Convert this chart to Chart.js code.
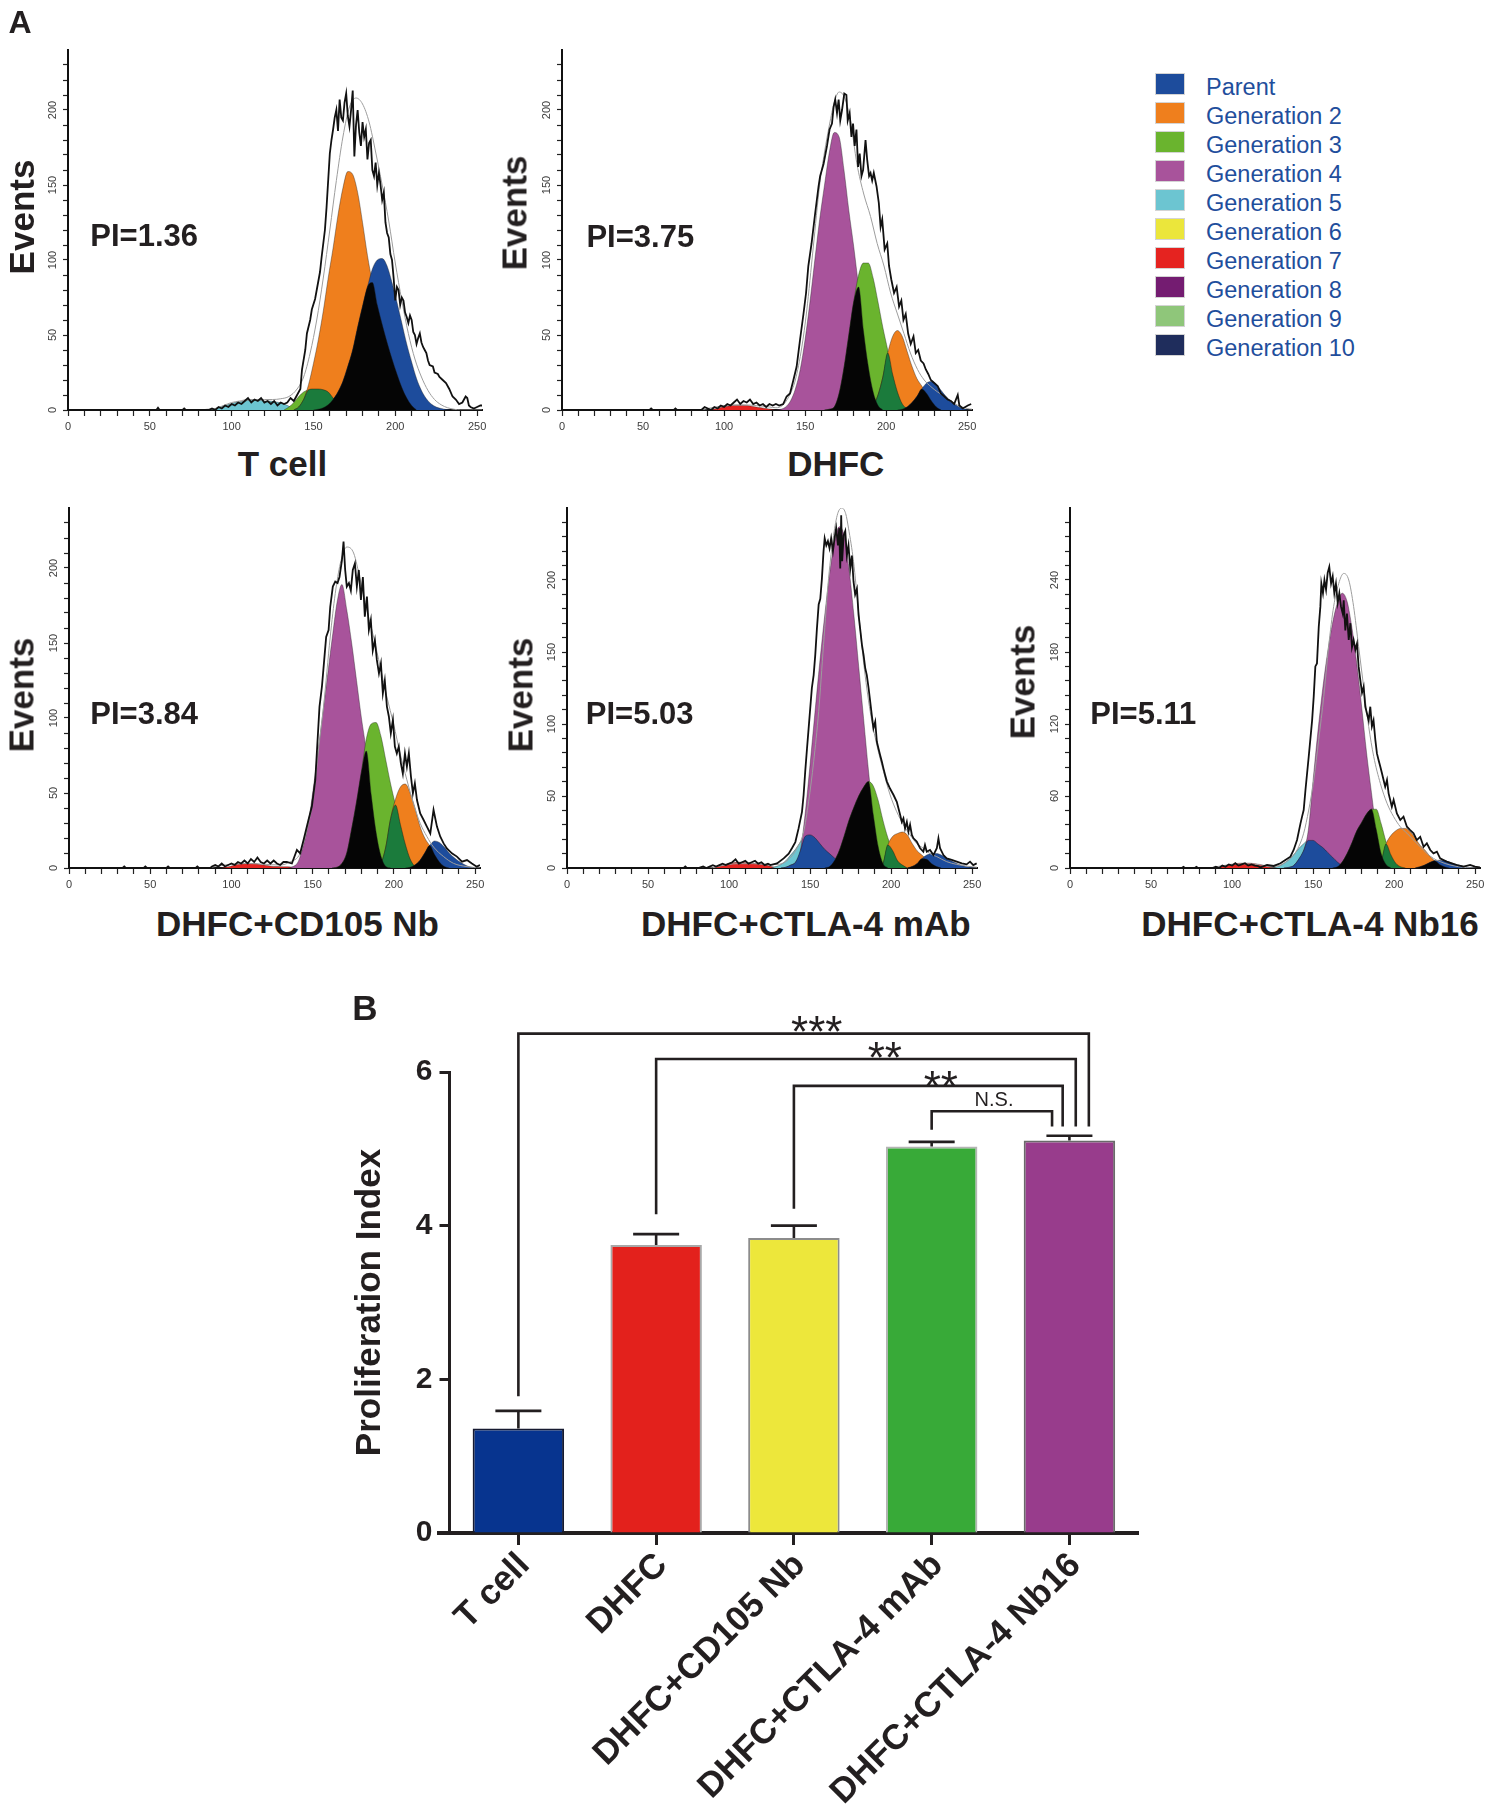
<!DOCTYPE html>
<html>
<head>
<meta charset="utf-8">
<script src="https://cdn.jsdelivr.net/npm/chart.js@4.4.1/dist/chart.umd.min.js"></script>
<style>
  html, body { margin: 0; padding: 0; background: #fff; }
  body { width: 1491px; height: 1812px; position: relative; overflow: hidden;
         font-family: "Liberation Sans", Arial, sans-serif; color: #231f20; }
  canvas { position: absolute; }
  .lbl { position: absolute; transform: translate(-50%, -50%); white-space: nowrap;
         font-weight: bold; line-height: 1; z-index: 5; }
  .lbl.rot { transform: translate(-50%, -50%) rotate(-90deg); }
  .sw { position: absolute; width: 30px; height: 22px; box-sizing: border-box; border: 1px solid #d4d4d4; }
  .lg { position: absolute; transform: translateY(-50%); font-size: 23.5px; line-height: 1;
        color: #1f4e9c; white-space: nowrap; }
</style>
</head>
<body>
<canvas id="h1" width="478" height="404"></canvas>
<canvas id="h2" width="474" height="404"></canvas>
<canvas id="h3" width="475" height="404"></canvas>
<canvas id="h4" width="474" height="404"></canvas>
<canvas id="h5" width="471" height="404"></canvas>
<canvas id="bars" width="820" height="822"></canvas>
<script>
Chart.defaults.font.family = '"Liberation Sans", Arial, sans-serif'

// ---- legend of generations
const genLabels = ['Parent', 'Generation 2', 'Generation 3', 'Generation 4', 'Generation 5',
                   'Generation 6', 'Generation 7', 'Generation 8', 'Generation 9', 'Generation 10']
const genColors = ['#1d4c9c', '#ef7f1d', '#6ab42e', '#a8539b', '#6cc5d1',
                   '#ebe63b', '#e52320', '#741c71', '#8fc67a', '#1f2d5c']
const blackOverlap = '#050505'
const greenOverlap = '#1b7b3c'

// ---- histogram axis ticks
const histXTicks = Array.from({length: 26}, (_, i) => i * 10)
const histXLabels = [0, 50, 100, 150, 200, 250]
const ticks240 = Array.from({length: 24}, (_, i) => i * 10)
const ticks250 = Array.from({length: 25}, (_, i) => i * 10)
const ticks300 = Array.from({length: 25}, (_, i) => i * 12)
const labels50 = [0, 50, 100, 150, 200]
const labels60 = [0, 60, 120, 180, 240]

// ---- T cell
const tcRaw = [[0,0],[54,0],[55,1.5],[56,0],[70,0],[71,1],[72,0],[86,0],[88,1],[90,0],[92,2],[94,1],[96,3],[98,2],[100,4],[102,3],[104,5],[106,4],[108,6],[110,8],[112,5],[114,7],[116,6],[118,8],[120,5],[122,6],[124,4],[126,6],[128,3],[130,5],[132,4],[134,5],[136,8],[138,6],[140,10],[142,14],[143,27],[145,40],[146,51],[148,60],[149,67],[151,74],[152,80],[154,92],[155,102],[157,120],[158,135],[160,171],[161,180],[162,187],[163,195],[164,200],[165,186],[166,207],[167,195],[168,193],[169,205],[170,211],[171,196],[172,189],[173,200],[174,213],[175,169],[176,190],[177,200],[178,185],[179,176],[180,192],[181,182],[182,187],[183,167],[184,178],[185,180],[186,160],[187,156],[188,165],[189,150],[190,158],[191,150],[192,140],[193,145],[194,125],[195,118],[196,115],[197,104],[198,100],[199,88],[200,73],[201,82],[202,80],[203,70],[204,75],[205,73],[206,65],[207,62],[208,58],[209,63],[210,60],[211,52],[212,50],[213,44],[214,48],[215,51],[216,45],[217,42],[218,40],[219,38],[220,33],[221,30],[223,29],[224,25],[226,24],[227,22],[229,20],[231,18],[233,14],[235,9],[237,7],[239,4],[241,5],[243,9],[244,8],[245,3],[246,2],[248,1],[250,2],[252,3],[253,3]]
const tcFit = [[0,0],[80,0],[85,0.5],[90,1],[95,3],[100,5],[105,6],[110,7],[115,7],[120,7],[125,7],[130,7.5],[135,9],[140,14],[144,22],[148,38],[152,60],[156,88],[160,120],[164,153],[168,182],[172,202],[176,208],[180,204],[184,192],[188,172],[192,150],[196,126],[200,98],[204,73],[208,51],[212,34],[216,22],[220,13],[224,7],[228,3.5],[232,1.5],[236,0.5],[240,0],[253,0]]
const tcGen5 = [[87,0],[90,1],[93,2],[96,3],[99,4],[102,5],[105,5.5],[108,6],[111,6.5],[114,6.5],[117,6.5],[120,6],[123,6],[126,5.5],[129,5],[132,4],[135,2.5],[138,1],[141,0]]
const tcGen3 = [[132,0],[135,2],[138,5],[141,9],[144,12],[147,13.5],[150,14],[153,14],[156,13.5],[159,12],[162,8],[165,4],[168,1],[171,0]]
const tcGen2 = [[138,0],[141,2],[144,7],[147,17],[150,31],[153,47],[156,66],[159,88],[162,108],[165,130],[168,148],[171,159],[174,157],[177,145],[180,125],[183,103],[186,85],[189,70],[192,57],[195,45],[198,34],[201,24],[204,15],[207,8],[210,3],[213,0]]
const tcParent = [[150,0],[153,0.5],[156,1.5],[159,3.5],[162,7],[165,12],[168,19],[171,29],[174,40],[177,55],[180,69],[183,82],[186,94],[189,100],[192,101],[195,96],[198,85],[201,72],[204,58],[207,44],[210,32],[213,21],[216,13],[219,7.5],[222,4],[225,2],[228,1],[231,0.3],[234,0]]

// ---- DHFC
const dhRaw = [[0,0],[54,0],[55,1],[56,0],[69,0],[70,1],[71,0],[86,0],[88,2],[90,1],[92,0],[94,2],[96,1],[98,3],[100,2],[102,4],[104,3],[106,5],[108,7],[110,4],[112,6],[114,5],[116,7],[118,4],[120,5],[122,3],[124,4],[126,2],[128,4],[130,3],[132,4],[134,3],[136.5,4],[138.6,9],[140.7,11],[142.8,20],[144.8,29],[146.9,47],[149,64],[150.6,78],[152,96],[154,111],[156.2,131],[158.3,149],[159.3,156],[161.4,164],[163.5,176],[165.1,187],[166.6,191],[167.6,202],[168.6,207],[169.7,198],[170.7,207],[171.7,193],[172.8,200],[174.2,211],[175.5,210],[176.3,193],[177.5,198],[178.6,182],[179.6,191],[180.6,176],[181.7,187],[182.7,162],[183.7,171],[184.8,156],[185.8,160],[187.3,180],[188.3,167],[189.5,156],[190.4,158],[191.4,153],[192.4,158],[194.1,149],[195.5,138],[196.6,122],[197.6,127],[199.1,107],[200.7,111],[201.8,96],[203.2,87],[204.9,78],[206.5,82],[208,69],[209.4,73],[210.7,60],[212.1,64],[213.6,51],[215.2,44],[216.9,49],[218.3,38],[219.8,40],[221.4,33],[223.1,31],[224.5,27],[226,24],[227.6,20],[229.7,18],[231.8,16],[233.8,11],[236,9],[238,7],[240,6],[242,4],[244.2,10],[245.2,3],[247.3,1],[250.4,3],[252.5,4]]
const dhFit = [[0,0],[85,0],[90,1],[95,2],[100,3],[110,3.5],[120,3],[128,2],[132,1.5],[136,3],[140,9],[144,20],[148,42],[151,66],[155,108],[159,150],[162,172],[165,190],[168,205],[171,212],[174.5,208],[178,193],[182,164],[186.2,144],[190.4,129],[194.5,111],[198.7,96],[202.8,78],[207,64],[211,51],[215,38],[219.4,27],[223.5,20],[227.6,15.6],[231.8,12],[236,9],[240,5.6],[244,3.3],[250,1],[253,0.5]]
const dhGen7 = [[90,0],[93,0.5],[96,1],[99,2],[102,2.5],[105,3],[108,3],[111,3],[114,3],[117,2.5],[120,2],[123,1.5],[126,1],[129,0.5],[132,0]]
const dhGen4 = [[132,0],[135,0.5],[138,2],[141,6],[144,14],[147,27],[150,47],[153,72],[156,100],[159,127],[162,150],[165,172],[168,185],[171,182],[174,160],[177,133],[180,109],[183,82],[186,53],[189,29],[192,12],[195,3],[198,0]]
const dhGen3 = [[162,0],[165,0.5],[168,2],[171,11],[174,28],[177,50],[180,72],[183,90],[186,98],[189,98],[192,88],[195,72],[198,55],[201,40],[204,24],[207,12],[210,4],[213,1],[216,0]]
const dhGen2 = [[186,0],[189,1],[192,3],[195,10],[198,22],[201,38],[204,49],[207,53],[210,49],[213,39],[216,29],[219,21],[222,16],[225,11],[228,6],[231,2],[234,0]]
const dhParent = [[207,0],[210,0.5],[213,2],[216,5],[219,9],[222,14],[225,18],[228,19],[231,17],[234,13],[237,9],[240,6],[243,3.5],[246,1.5],[249,0.5],[252,0]]

// ---- DHFC+CD105 Nb
const cdRaw = [[0,0],[33,0],[34,1],[35,0],[46,0],[47,1],[48,0],[60,0],[61,1],[62,0],[78,0],[79,1],[80,0],[87,0],[88,1],[90,2],[92,1],[94,3],[96,1],[98,2],[100,3],[102,2],[104,4],[106,3],[108,5],[110,3],[112,6],[114,4],[116,7],[118,4],[120,3],[122,5],[124,3],[126,5],[128,3],[130,2],[132,4],[134.1,4],[137.2,3],[140.3,12],[142.3,9.8],[144.4,18.7],[147.4,32],[149.5,41],[151.6,58.7],[153,85],[154.2,107.6],[155.7,121],[157.1,138.7],[158.3,154],[159.8,158.7],[160.8,174],[162.4,187.6],[163.9,191],[165.3,190],[166.5,194],[168,205],[169,217.6],[170,198.7],[171,187.6],[172.3,190],[173.5,185],[174.7,198.7],[176,203],[177.2,187.6],[178.4,198.7],[179.7,178.7],[180.9,194],[182.1,167.6],[183.4,181],[184.6,158.7],[185.8,165.3],[187,145],[188.3,152],[189.5,138.7],[190.8,129.8],[192,136.4],[193.2,116.4],[194.4,125],[195.7,107.6],[196.9,101],[198.1,89.8],[199.4,98.7],[200.6,81],[201.8,76.4],[203,81],[204.3,69.8],[205.5,63],[206.8,76.4],[208,67.6],[209.2,76.4],[210.5,60.9],[211.7,49.8],[212.9,56.4],[214.2,45.3],[216.2,36.4],[218.3,32],[220.3,27.6],[222.4,23],[224.4,38.7],[226.5,27.6],[228.5,21],[230.6,16.4],[232.6,13],[235.7,9.8],[238.8,7.6],[241.9,4.2],[245,5.3],[248,3],[251,0.9],[253,2]]
const cdFit = [[0,0],[85,0],[90,1],[100,2.5],[110,3],[120,2.5],[130,2],[136,4],[142.3,9.8],[146.4,25],[150.5,47.6],[153.5,78],[156.7,107.6],[160.8,154],[163.9,183],[167,203],[171,214],[175.2,210],[179.3,192],[183.4,172],[187.5,154],[191.6,134],[195.7,114],[199.8,96],[203.9,76],[208,58.7],[212,43],[216.2,29.8],[220.3,21],[224.4,14],[230.6,7.6],[236.7,3.1],[245,0.9],[253,0]]
const cdGen7 = [[93,0],[96,0.5],[99,1],[102,2],[105,2.5],[108,3],[111,3],[114,3],[117,2.5],[120,2],[123,1.5],[126,1],[129,1],[132,0.8],[135,0.8],[138,0.5],[141,0.3],[144,0]]
const cdGen4 = [[135,0],[138,1],[141,4],[144,14],[147,28],[150,50],[153,75],[156,101],[159,127],[162,153],[165,177],[168,189],[171,172],[174,150],[177,125],[180,100],[183,78],[186,49],[189,24],[192,8],[195,1],[198,0]]
const cdGen3 = [[162,0],[165,0.5],[168,3],[171,10],[174,26],[177,44],[180,64],[183,86],[186,96],[189,97],[192,88],[195,72],[198,56],[201,42],[204,29],[207,16],[210,6],[213,1],[216,0]]
const cdGen2 = [[186,0],[189,0.5],[192,3],[195,14],[198,33],[201,46],[204,54],[207,56],[210,50],[213,40],[216,28],[219,20],[222,15],[225,9],[228,4],[231,1],[234,0]]
const cdParent = [[207,0],[210,0.5],[213,2],[216,5],[219,10],[222,15],[225,18],[228,17],[231,14],[234,10],[237,7],[240,4.5],[243,2.5],[246,1],[249,0.3],[252,0]]

// ---- DHFC+CTLA-4 mAb
const mbRaw = [[0,0],[72,0],[73,1],[74,0],[81,0],[84,1],[86,0],[88,1],[90,2],[92,1],[94,2],[96,3],[98,2],[100,3],[102,4],[104,6],[106,3],[108,4],[110,5],[112,3],[114,4],[116,5],[118,3],[120,4],[122,2],[124,3],[125.5,2],[129.6,3.2],[133.7,6.7],[136.8,10],[138.8,13.7],[140.9,18],[142.9,27.5],[145,39],[146,50.7],[147,67],[148.1,83],[149.1,97],[150.1,111],[151.1,125],[152.2,134],[153.2,148],[154.2,166],[155.3,183],[156.3,187],[157.3,201],[158.3,220],[159,229],[160,224],[161,227],[162,222],[163,229],[164.1,220],[165.1,229],[166.1,236],[167.2,224],[168,236],[168.6,208],[169.2,245],[169.8,213],[170.7,231],[171.7,234],[172.7,217],[173.7,224],[174.8,208],[175.8,217],[176.8,199],[177.8,190],[178.9,194],[179.9,176],[180.9,166],[182,155],[183,148],[184,139],[185,134],[186.1,125],[187.1,115.5],[188.1,106],[189.1,97],[190.2,101.6],[191.2,87.7],[192.2,83],[193.2,78.5],[194.3,73.8],[195.3,69],[196.3,64.6],[197.4,60],[199.4,55],[201.5,50.7],[203.5,46],[205.6,36.8],[206.6,32],[207.6,34.5],[208.6,27.5],[209.7,32],[210.7,25.2],[211.7,30],[212.8,23],[213.8,20.6],[215.8,18.3],[217.9,13.7],[219.9,11.3],[220.9,16],[222,11.3],[224,12.5],[226.1,9],[228.2,13.7],[229.2,20.6],[230.2,13.7],[232.3,9],[234.3,6.7],[237.4,5.6],[240.5,4.4],[243.6,3.2],[246.6,2.5],[248.7,4.4],[250.7,2],[252.8,3.2]]
const mbFit = [[0,0],[88,0],[95,1.5],[105,3],[115,3],[125,2.5],[129.6,2.5],[135.7,5],[141.9,13.7],[146,25],[149.1,46],[152.2,73.8],[155.3,108.6],[158.3,155],[161.4,201],[164.5,231],[167,246],[169.6,250],[172,246],[173.7,236],[176.8,213],[179.9,178],[183,143],[187.1,108.6],[191.2,85.4],[195.3,67],[199.4,50.7],[203.5,39],[207.6,30],[211.7,23],[215.8,17],[219.9,13.7],[224,10],[228.2,7.9],[234.3,4.4],[240.5,2.5],[248.7,1],[253,0.5]]
const mbGen7 = [[90,0],[93,1],[96,2],[99,3],[102,3.5],[105,4],[108,4],[111,3.5],[114,3.5],[117,3],[120,2.5],[123,2],[126,1],[129,0.5],[132,0]]
const mbGen5 = [[126,0],[129,1],[132,2.5],[135,5],[138,9],[141,13],[144,18],[147,22],[150,23],[153,21],[156,17],[159,13],[162,10],[165,7],[168,4],[171,2],[174,0.5],[177,0]]
const mbGen4 = [[132,0],[135,0.5],[138,2],[141,4],[144,12],[147,38],[150,72],[153,108],[156,143],[159,175],[162,204],[165,226],[168,237],[171,231],[174,208],[177,176],[180,140],[183,104],[186,68],[189,37],[192,15],[195,3],[198,0]]
const mbGen3 = [[159,0],[162,1],[165,5],[168,12],[171,22],[174,33],[177,42],[180,50],[183,56],[186,60],[189,57],[192,47],[195,33],[198,21],[201,12],[204,5],[207,2],[210,0]]
const mbGen2 = [[192,0],[195,3],[198,16],[201,22],[204,24],[207,25],[210,23],[213,17],[216,12],[219,9],[222,6],[225,3],[228,1],[231,0]]
const mbParent = [[210,0],[213,1],[216,3],[219,6.5],[222,9],[225,10],[228,10],[231,9],[234,7],[237,5],[240,3.5],[243,2],[246,1],[249,0.5],[252,0]]

// ---- DHFC+CTLA-4 Nb16
const nbRaw = [[0,0],[69,0],[70,1],[71,0],[77,0],[78,1],[79,0],[88,0],[90,1],[92,0],[94,2],[96,1],[98,3],[100,2],[102,4],[104,2],[106,3],[108,4],[110,2],[112,3],[114,2],[116,1.5],[117.5,0.5],[121.6,2.5],[125.7,1.7],[129.9,3.9],[132.9,6.6],[136,9.4],[138,15],[140.1,23.3],[142.2,37],[143.2,42.8],[144.2,48.3],[145.3,65],[147.3,92.7],[149.4,123],[150.4,143],[151.4,168],[152.4,170.5],[153.5,201],[154.5,218],[155.1,237],[156.1,229],[157,240],[158,232],[159,246],[160,251],[161.1,237],[162.1,243],[163.1,229],[164.1,237],[165.2,221],[166.2,229],[167.2,218],[168.3,212],[168.9,223],[169.9,198],[170.9,212],[172,190],[173,204],[174,184],[175,190],[176.1,182],[177.1,187],[178.1,168],[179.1,157],[180.2,146],[181.2,151],[182.2,134.4],[183.2,129],[184.3,123],[185.3,134.4],[186.3,118],[187.3,123],[188.4,107],[189.4,95.5],[190.4,90],[191.5,84.4],[192.5,78.9],[193.5,73.3],[194.5,67.8],[195.6,73.3],[196.6,62.2],[197.6,56.7],[198.6,51],[199.7,56.7],[201.7,45.5],[203.8,40],[205.8,42.8],[207.9,34.4],[209.9,31.6],[212,28.9],[214,23.3],[216.1,26],[218.2,17.7],[220.2,20.5],[222.3,15],[224.3,12.2],[226.4,13.6],[228.4,8],[230.5,6.6],[232.5,5.3],[235.6,3.9],[238.7,2.5],[242.8,1.1],[246.9,2.5],[249.9,1.1],[253,0.5]]
const nbFit = [[0,0],[85,0],[90,1],[100,3],[110,3.5],[118,2.5],[123.7,1],[129.9,2.5],[135,6.7],[140.1,15],[144.2,29],[147.3,48.3],[150.4,73.3],[153.5,107],[156.6,143],[159.6,184.6],[162.7,218],[165.8,237],[168.9,245.5],[172,240],[175,218],[178.1,184.6],[181.2,151],[184.3,118],[187.4,93],[191.5,70.5],[195.6,54],[199.7,42.8],[203.8,34.4],[207.9,29],[212,23.3],[216.1,17.7],[220.2,12.2],[224.3,8],[228.4,5.3],[234.5,2.5],[244.8,0.3],[253,0]]
const nbGen7 = [[90,0],[93,1],[96,2],[99,3],[102,3.5],[105,4],[108,4],[111,4],[114,3.5],[117,3],[120,2],[123,1],[126,0.5],[129,0]]
const nbGen5 = [[123,0],[126,0.5],[129,1.5],[132,4],[135,7],[138,11],[141,16],[144,20],[147,23],[150,23],[153,20],[156,17],[159,13],[162,9],[165,5],[168,2],[171,0.5],[174,0]]
const nbGen4 = [[132,0],[135,0.5],[138,2],[141,7],[144,14],[147,31],[150,73],[153,114],[156,150],[159,180],[162,204],[165,221],[168,229],[171,222],[174,200],[177,170],[180,134],[183,96],[186,63],[189,32],[192,12],[195,3],[198,0]]
const nbGen3 = [[162,0],[165,1],[168,5],[171,12],[174,21],[177,31],[180,38],[183,45],[186,49],[189,49],[192,37],[195,22],[198,11],[201,4],[204,1],[207,0]]
const nbGen2 = [[189,0],[192,5],[195,20],[198,27],[201,31],[204,33],[207,33],[210,30],[213,25],[216,19],[219,15],[222,10],[225,6],[228,3],[231,1],[234,0]]
const nbParent = [[213,0],[216,1],[219,2.5],[222,4.5],[225,6],[228,6.5],[231,6],[234,5],[237,3.5],[240,2.5],[243,1.5],[246,0.7],[249,0.3],[252,0]]

// ---- panel B: proliferation index
const groups = ['T cell', 'DHFC', 'DHFC+CD105 Nb', 'DHFC+CTLA-4 mAb', 'DHFC+CTLA-4 Nb16']
const piMean = [1.36, 3.75, 3.84, 5.03, 5.11]
const piErr = [0.23, 0.14, 0.16, 0.06, 0.06]
const barColors = ['#07348f', '#e3211c', '#ede73b', '#38aa38', '#983c8c']
const barEdges = ['#161a30', '#a8a8a8', '#8c8c8c', '#b4b4b4', '#6a6a6a']

// significance brackets (x in category units, y in index units)
const sigFrom = [0, 1, 2, 3]
const sigTo = [4.141, 4.046, 3.951, 3.874]
const sigLevel = [6.50, 6.17, 5.82, 5.49]
const sigLeftEnd = [1.78, 4.15, 4.22, 5.25]
const sigRightEnd = [5.29, 5.29, 5.29, 5.29]
const sigText = ['***', '**', '**', 'N.S.']
const sigTextX = [2.166, 2.66, 3.066, 3.453]
const sigTextY = [6.65, 6.32, 5.94, 5.63]

// ---------------------------------------------------------------
const pts = arr => arr.map(p => ({x: p[0], y: p[1]}))

// area shared by two neighbouring generations
function overlap(a, b) {
    const mb = new Map(b.map(p => [p[0], p[1]]))
    return a.filter(p => mb.has(p[0])).map(p => ({x: p[0], y: Math.min(p[1], mb.get(p[0]))}))
}

function histChart(cfg) {
    const cv = document.getElementById(cfg.id)
    cv.style.left = cfg.left + 'px'
    cv.style.top = cfg.top + 'px'
    const sets = []
    cfg.comps.forEach(([d, c]) => sets.push({
        data: pts(d), backgroundColor: c, borderColor: 'rgba(30,30,30,0.55)', borderWidth: 0.7,
        fill: 'origin', cubicInterpolationMode: 'monotone'
    }))
    cfg.overlaps.forEach(([a, b, c]) => sets.push({
        data: overlap(a, b), backgroundColor: c, borderColor: 'rgba(20,20,20,0.6)', borderWidth: 0.7,
        fill: 'origin', cubicInterpolationMode: 'monotone'
    }))
    sets.push({data: pts(cfg.fit), borderColor: '#9d9d9d', borderWidth: 1, fill: false, cubicInterpolationMode: 'monotone'})
    sets.push({data: pts(cfg.raw), borderColor: '#111', borderWidth: 1.8, fill: false, tension: 0})
    sets.forEach((s, i) => { s.order = sets.length - i; s.pointRadius = 0 })

    new Chart(cv, {
        type: 'line',
        data: {datasets: sets},
        options: {
            responsive: false,
            animation: false,
            devicePixelRatio: 1,
            events: [],
            layout: {padding: {top: 12, right: cfg.padRight, left: 0, bottom: 0}},
            plugins: {legend: {display: false}, tooltip: {enabled: false}},
            scales: {
                x: {
                    type: 'linear', min: 0, max: 253,
                    afterBuildTicks: s => { s.ticks = histXTicks.map(v => ({value: v})) },
                    afterFit: s => { s.height = 32 },
                    ticks: {autoSkip: false, maxRotation: 0, minRotation: 0, padding: 4, color: '#3c3c3c',
                            font: {size: 11}, callback: v => histXLabels.includes(v) ? String(v) : ''},
                    grid: {drawOnChartArea: false, tickLength: 6, tickWidth: 1.2, tickColor: '#222'},
                    border: {color: '#111', width: 2}
                },
                y: {
                    min: 0, max: cfg.yMax,
                    afterBuildTicks: s => { s.ticks = cfg.yTicks.map(v => ({value: v})) },
                    afterFit: s => { s.width = 50 },
                    ticks: {autoSkip: false, minRotation: 90, maxRotation: 90, crossAlign: 'center', padding: 1,
                            color: '#3c3c3c', font: {size: 11},
                            callback: v => cfg.yLabels.includes(v) ? String(v) : ''},
                    grid: {drawOnChartArea: false, tickLength: 5, tickWidth: 1.2, tickColor: '#222'},
                    border: {color: '#111', width: 2}
                }
            }
        }
    })
}

histChart({id: 'h1', left: 18, top: 38, padRight: 14, raw: tcRaw, fit: tcFit, yMax: 240, yTicks: ticks240, yLabels: labels50,
    comps: [[tcGen5, genColors[4]], [tcGen3, genColors[2]], [tcGen2, genColors[1]], [tcParent, genColors[0]]],
    overlaps: [[tcGen3, tcGen2, greenOverlap], [tcGen2, tcParent, blackOverlap]]})

histChart({id: 'h2', left: 512, top: 38, padRight: 14, raw: dhRaw, fit: dhFit, yMax: 240, yTicks: ticks240, yLabels: labels50,
    comps: [[dhGen7, genColors[6]], [dhGen4, genColors[3]], [dhGen3, genColors[2]], [dhGen2, genColors[1]], [dhParent, genColors[0]]],
    overlaps: [[dhGen3, dhGen2, greenOverlap], [dhGen4, dhGen3, blackOverlap], [dhGen2, dhParent, blackOverlap]]})

histChart({id: 'h3', left: 19, top: 496, padRight: 14, raw: cdRaw, fit: cdFit, yMax: 240, yTicks: ticks240, yLabels: labels50,
    comps: [[cdGen7, genColors[6]], [cdGen4, genColors[3]], [cdGen3, genColors[2]], [cdGen2, genColors[1]], [cdParent, genColors[0]]],
    overlaps: [[cdGen3, cdGen2, greenOverlap], [cdGen4, cdGen3, blackOverlap], [cdGen2, cdParent, blackOverlap]]})

histChart({id: 'h4', left: 517, top: 496, padRight: 14, raw: mbRaw, fit: mbFit, yMax: 250, yTicks: ticks250, yLabels: labels50,
    comps: [[mbGen7, genColors[6]], [mbGen5, genColors[4]], [mbGen4, genColors[3]], [mbGen3, genColors[2]], [mbGen2, genColors[1]], [mbParent, genColors[0]]],
    overlaps: [[mbGen5, mbGen4, genColors[0]], [mbGen3, mbGen2, greenOverlap], [mbGen4, mbGen3, blackOverlap], [mbGen2, mbParent, blackOverlap]]})

histChart({id: 'h5', left: 1020, top: 496, padRight: 11, raw: nbRaw, fit: nbFit, yMax: 300, yTicks: ticks300, yLabels: labels60,
    comps: [[nbGen7, genColors[6]], [nbGen5, genColors[4]], [nbGen4, genColors[3]], [nbGen3, genColors[2]], [nbGen2, genColors[1]], [nbParent, genColors[0]]],
    overlaps: [[nbGen5, nbGen4, genColors[0]], [nbGen3, nbGen2, greenOverlap], [nbGen4, nbGen3, blackOverlap], [nbGen2, nbParent, blackOverlap]]})

// ---- bar chart with error bars and brackets
const ink = '#231f20'
const sigPlugin = {
    id: 'sig',
    afterDatasetsDraw(chart) {
        const {ctx, scales: {x, y}} = chart
        ctx.save()
        ctx.strokeStyle = ink
        ctx.fillStyle = ink
        // x axis runs a little past the y axis on the left
        ctx.lineWidth = 4
        ctx.beginPath()
        ctx.moveTo(107, y.getPixelForValue(0))
        ctx.lineTo(chart.chartArea.left, y.getPixelForValue(0))
        ctx.stroke()

        ctx.lineWidth = 2.6
        piMean.forEach((m, i) => {
            const cx = x.getPixelForValue(i)
            const half = x.getPixelForValue(i + 0.167) - cx
            const top = y.getPixelForValue(m + piErr[i])
            ctx.beginPath()
            ctx.moveTo(cx, y.getPixelForValue(m))
            ctx.lineTo(cx, top)
            ctx.moveTo(cx - half, top)
            ctx.lineTo(cx + half, top)
            ctx.stroke()
        })

        sigFrom.forEach((f, i) => {
            const x1 = x.getPixelForValue(f), x2 = x.getPixelForValue(sigTo[i])
            const yl = y.getPixelForValue(sigLevel[i])
            ctx.beginPath()
            ctx.moveTo(x1, y.getPixelForValue(sigLeftEnd[i]))
            ctx.lineTo(x1, yl)
            ctx.lineTo(x2, yl)
            ctx.lineTo(x2, y.getPixelForValue(sigRightEnd[i]))
            ctx.stroke()
        })

        ctx.textAlign = 'center'
        sigText.forEach((t, i) => {
            const px = x.getPixelForValue(sigTextX[i])
            const py = y.getPixelForValue(sigTextY[i])
            if (t === 'N.S.') {
                ctx.font = '20px "Liberation Sans", Arial, sans-serif'
                ctx.textBaseline = 'middle'
                ctx.fillText(t, px, py)
            } else {
                ctx.font = '44px "Liberation Sans", Arial, sans-serif'
                ctx.textBaseline = 'alphabetic'
                ctx.fillText(t, px, py + 0.575 * 44)
            }
        })
        ctx.restore()
    }
}

const barCanvas = document.getElementById('bars')
barCanvas.style.left = '330px'
barCanvas.style.top = '990px'
new Chart(barCanvas, {
    type: 'bar',
    data: {
        labels: groups,
        datasets: [{
            data: piMean, backgroundColor: barColors, borderColor: barEdges, borderWidth: 2,
            barPercentage: 0.664, categoryPercentage: 1
        }]
    },
    options: {
        responsive: false,
        animation: false,
        devicePixelRatio: 1,
        events: [],
        layout: {padding: {top: 82, right: 11.7, left: 0, bottom: 0}},
        plugins: {legend: {display: false}, tooltip: {enabled: false}},
        scales: {
            x: {
                offset: true,
                afterFit: s => { s.height = 279 },
                ticks: {autoSkip: false, minRotation: 45, maxRotation: 45, padding: 0, labelOffset: 6,
                        color: ink, font: {size: 35, weight: 'bold'}},
                grid: {offset: false, drawOnChartArea: false, tickLength: 12, tickWidth: 3, tickColor: ink},
                border: {color: ink, width: 4}
            },
            y: {
                min: 0, max: 6,
                afterFit: s => { s.width = 119.5 },
                ticks: {stepSize: 2, padding: 7, color: ink, font: {size: 30, weight: 'bold'}},
                grid: {drawOnChartArea: false, tickLength: 10, tickWidth: 3, tickColor: ink},
                border: {color: ink, width: 3},
                title: {display: true, text: 'Proliferation Index', color: ink,
                        font: {size: 35, weight: 'bold'}, padding: {top: 19.5, bottom: 0}}
            }
        }
    },
    plugins: [sigPlugin]
})

// ---- text labels of panel A
function addLabel(text, cx, cy, size, rotated) {
    const d = document.createElement('div')
    d.className = 'lbl' + (rotated ? ' rot' : '')
    d.textContent = text
    d.style.left = cx + 'px'
    d.style.top = cy + 'px'
    d.style.fontSize = size + 'px'
    document.body.appendChild(d)
}
addLabel('A', 20, 21.5, 32)
addLabel('B', 365, 1006.5, 35)

const eventsPos = [[20.7, 216.7], [514, 212.5], [20.8, 695], [520, 695], [1021.7, 681.7]]
eventsPos.forEach(p => addLabel('Events', p[0], p[1], 35, true))

const piPos = [[144.2, 234.5], [640.3, 235.5], [144.2, 713.3], [639.7, 712.5], [1143.3, 713]]
piPos.forEach((p, i) => addLabel('PI=' + piMean[i].toFixed(2), p[0], p[1], 31))

const titlePos = [[282.5, 463], [835.8, 463], [297.5, 922.5], [805.8, 922.5], [1310, 922.5]]
titlePos.forEach((p, i) => addLabel(groups[i], p[0], p[1], 35))

// legend
genLabels.forEach((g, i) => {
    const s = document.createElement('div')
    s.className = 'sw'
    s.style.left = '1155px'
    s.style.top = (73.3 + 29 * i) + 'px'
    s.style.background = genColors[i]
    document.body.appendChild(s)
    const t = document.createElement('div')
    t.className = 'lg'
    t.textContent = g
    t.style.left = '1206px'
    t.style.top = (87.5 + 29 * i) + 'px'
    document.body.appendChild(t)
})
</script>
</body>
</html>
